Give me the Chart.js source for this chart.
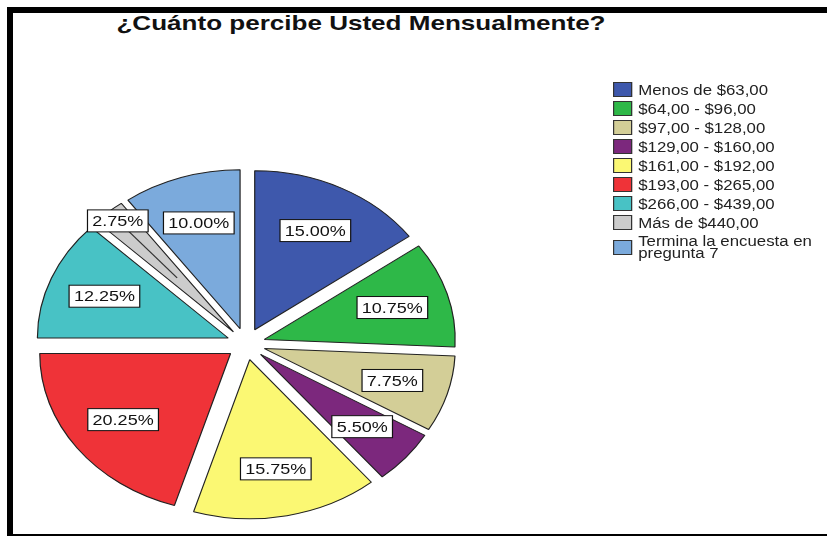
<!DOCTYPE html>
<html lang="es">
<head>
<meta charset="utf-8">
<title>¿Cuánto percibe Usted Mensualmente?</title>
<script src="https://cdn.jsdelivr.net/npm/chart.js@4.4.1/dist/chart.umd.min.js"></script>
<style>
    html, body { margin: 0; padding: 0; background: #fff; }
    .lienzo { position: relative; width: 827px; height: 536px; overflow: hidden; }
    .marco {
        position: absolute; left: 7px; top: 7px; width: 900px; height: 521px;
        border-top: 6px solid #000; border-left: 6px solid #000; border-bottom: 2px solid #000;
    }
    .titulo {
        position: absolute; left: 361px; top: 11px; white-space: nowrap;
        font: bold 21px "Liberation Sans", Arial, sans-serif; color: #111;
        transform: translateX(-50%) scaleX(1.24);
    }
    #grafico { position: absolute; left: 0; top: 0; }
    #leyenda {
        position: absolute; left: 613px; top: 80px;
        transform: scaleX(1.2); transform-origin: 0 0;
        font: 14px "Liberation Sans", Arial, sans-serif; color: #222;
    }
    .item { display: flex; align-items: center; height: 19px; }
    .item.doble { height: 30px; line-height: 12px; }
    .cuadro { flex: none; width: 16px; height: 15px; border: 1px solid #333; box-sizing: border-box; margin-right: 5px; }
</style>
</head>
<body>
<div class="lienzo">
    <div class="marco"></div>
    <div class="titulo">¿Cuánto percibe Usted Mensualmente?</div>
    <canvas id="grafico" width="827" height="536"></canvas>
    <div id="leyenda"></div>
</div>
<script>
// datos
const categorias = [
    'Menos de $63,00',
    '$64,00 - $96,00',
    '$97,00 - $128,00',
    '$129,00 - $160,00',
    '$161,00 - $192,00',
    '$193,00 - $265,00',
    '$266,00 - $439,00',
    'Más de $440,00',
    'Termina la encuesta en pregunta 7'
];
const porcentajes = [15.00, 10.75, 7.75, 5.50, 15.75, 20.25, 12.25, 2.75, 10.00];
const colores = ['#3E58AC', '#2EB848', '#D3CE97', '#7C287D', '#FBF873', '#EF3338', '#48C2C5', '#CCCCCC', '#7BAADC'];

const ESTIRAR = 1.2;    // el pastel original esta estirado a lo ancho
const SEPARAR = 16;     // separacion de cada porcion

// leyenda
const leyenda = document.getElementById('leyenda');
categorias.forEach((cat, i) => {
    const item = document.createElement('div');
    item.className = 'item';
    if (i === categorias.length - 1) {
        item.classList.add('doble');
        cat = 'Termina la encuesta en<br>pregunta 7';
    }
    item.innerHTML = '<span class="cuadro" style="background:' + colores[i] + '"></span><span>' + cat + '</span>';
    leyenda.appendChild(item);
});

function estirado(chart, fn) {
    const ctx = chart.ctx;
    const centro = chart.getDatasetMeta(0).data[0];
    ctx.save();
    ctx.translate(centro.x, 0);
    ctx.scale(ESTIRAR, 1);
    ctx.translate(-centro.x, 0);
    fn(ctx);
    ctx.restore();
}

const pastelPlugin = {
    id: 'pastelSeparado',
    beforeDatasetDraw(chart, args) {
        estirado(chart, (ctx) => {
            args.meta.data.forEach((arc) => {
                const mid = (arc.startAngle + arc.endAngle) / 2;
                ctx.save();
                ctx.translate(Math.cos(mid) * SEPARAR, Math.sin(mid) * SEPARAR);
                arc.draw(ctx);
                ctx.restore();
            });
        });
        return false;
    },
    afterDatasetsDraw(chart) {
        const meta = chart.getDatasetMeta(0);
        estirado(chart, (ctx) => {
            ctx.font = '15px "Liberation Sans", Arial, sans-serif';
            ctx.textAlign = 'center';
            ctx.textBaseline = 'middle';
            ctx.lineWidth = 1;
            meta.data.forEach((arc, i) => {
                const mid = (arc.startAngle + arc.endAngle) / 2;
                const r = arc.outerRadius;
                const chica = porcentajes[i] < 4;
                const dist = chica ? r + 4 : r * 0.7 + SEPARAR;
                const x = arc.x + Math.cos(mid) * dist;
                const y = arc.y + Math.sin(mid) * dist;
                const texto = porcentajes[i].toFixed(2) + '%';
                const w = ctx.measureText(texto).width + 8;
                const h = 22;
                if (chica) {
                    // linea guia hacia la porcion
                    const d2 = r * 0.45 + SEPARAR;
                    ctx.strokeStyle = '#333';
                    ctx.beginPath();
                    ctx.moveTo(x, y);
                    ctx.lineTo(arc.x + Math.cos(mid) * d2, arc.y + Math.sin(mid) * d2);
                    ctx.stroke();
                }
                ctx.fillStyle = '#fff';
                ctx.fillRect(x - w / 2, y - h / 2, w, h);
                ctx.strokeStyle = '#111';
                ctx.strokeRect(x - w / 2, y - h / 2, w, h);
                ctx.fillStyle = '#111';
                ctx.fillText(texto, x, y + 1);
            });
        });
    }
};

new Chart(document.getElementById('grafico'), {
    type: 'pie',
    data: {
        labels: categorias,
        datasets: [{
            data: porcentajes,
            backgroundColor: colores,
            borderColor: '#222',
            borderWidth: 1,
            clip: false
        }]
    },
    options: {
        responsive: false,
        animation: false,
        events: [],
        radius: 159,
        layout: { padding: { left: 66, right: 401, top: 164, bottom: 12 } },
        plugins: {
            legend: { display: false },
            tooltip: { enabled: false },
            title: { display: false }
        }
    },
    plugins: [pastelPlugin]
});
</script>
</body>
</html>
